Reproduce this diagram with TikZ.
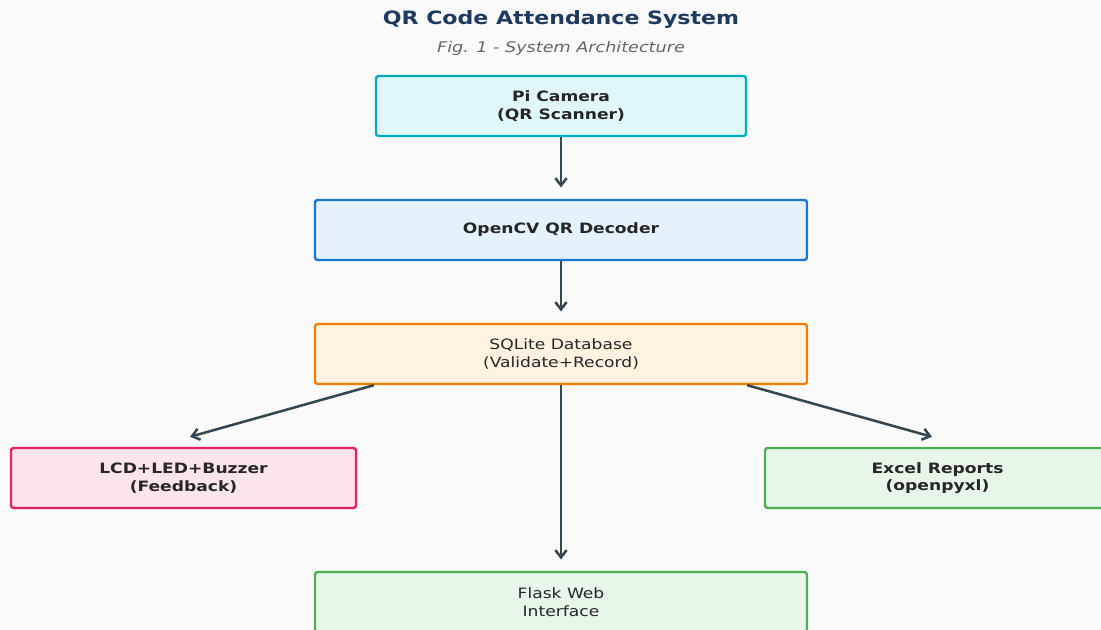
\documentclass[tikz,border=0pt]{standalone}
\usepackage{fontspec}
\setmainfont{DejaVu Sans}[FakeStretch=1.2]
\usepackage{tikz}
\usetikzlibrary{arrows.meta,positioning,calc}
\definecolor{bgcol}{HTML}{FAFAFA}
\definecolor{titlecol}{HTML}{1F3A5F}
\definecolor{subcol}{HTML}{666666}
\definecolor{txtcol}{HTML}{262626}
\definecolor{arrowcol}{HTML}{37474F}
\definecolor{camline}{HTML}{00ACC1}
\definecolor{camfill}{HTML}{E0F7FA}
\definecolor{cvline}{HTML}{1976D2}
\definecolor{cvfill}{HTML}{E3F2FD}
\definecolor{dbline}{HTML}{F57C00}
\definecolor{dbfill}{HTML}{FFF3E0}
\definecolor{fbline}{HTML}{E91E63}
\definecolor{fbfill}{HTML}{FCE4EC}
\definecolor{okline}{HTML}{4CAF50}
\definecolor{okfill}{HTML}{E8F5E9}

\begin{document}
\begin{tikzpicture}[x=0.75pt, y=-0.75pt,
    block/.style={rectangle, rounded corners=2pt, line width=1.8pt, draw,
                  minimum height=45pt, align=center, text=txtcol,
                  font=\fontsize{10.7}{13.2}\selectfont},
    boldblock/.style={block, font=\fontsize{10.7}{13.2}\selectfont\bfseries},
    arr/.style={-{Straight Barb[length=5.5pt,width=8.5pt]}, draw=arrowcol, line width=1.9pt}]
      \clip (0,0) rectangle (1101,630);
      \fill[bgcol] (0,0) rectangle (1101,630);

      \node[text=titlecol, font=\fontsize{13.8}{16}\selectfont\bfseries] (title) at (561,19.5) {QR Code Attendance System};
      \node[text=subcol, font=\fontsize{11}{13}\selectfont\itshape] (subtitle) at (561,48) {Fig. 1 - System Architecture};

      \node[boldblock, draw=camline, fill=camfill, minimum width=277.5pt] (cam) at (561,106) {Pi Camera\\(QR Scanner)};
      \node[boldblock, draw=cvline, fill=cvfill, minimum width=369pt] (cv) at (561,230) {OpenCV QR Decoder};
      \node[block, draw=dbline, fill=dbfill, minimum width=369pt] (db) at (561,354) {SQLite Database\\(Validate+Record)};
      \node[boldblock, draw=fbline, fill=fbfill, minimum width=258.75pt] (fb) at (183.5,478) {LCD+LED+Buzzer\\(Feedback)};
      \node[boldblock, draw=okline, fill=okfill, minimum width=258.75pt] (xl) at (937.5,478) {Excel Reports\\(openpyxl)};
      \node[block, draw=okline, fill=okfill, minimum width=369pt] (web) at (561,602) {Flask Web\\Interface};

      \draw[arr, shorten >=8.5pt] (cam) -- (cv);
      \draw[arr, shorten >=8.5pt] (cv) -- (db);
      \draw[arr, shorten >=8.5pt] (db) -- (web);
      \draw[arr] ($(db.south west)+(60,0)$) -- ($(fb.north)+(6.5,-10)$);
      \draw[arr] ($(db.south east)+(-61,0)$) -- ($(xl.north)+(-5.5,-10)$);
\end{tikzpicture}
\end{document}
